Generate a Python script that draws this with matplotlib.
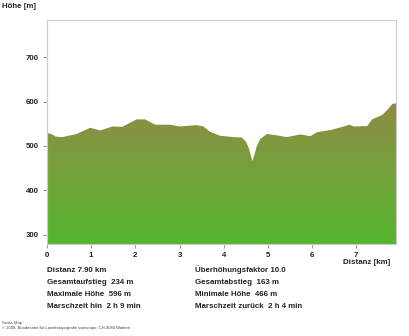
import numpy as np
import matplotlib
matplotlib.use('Agg')
import matplotlib.pyplot as plt
from matplotlib.colors import LinearSegmentedColormap

plt.rcParams['font.family'] = ['Liberation Sans', 'DejaVu Sans']

# profile (km, m)
dist = [0.0, 0.1, 0.2, 0.35, 0.67, 0.98, 1.2, 1.49, 1.7, 2.03, 2.22, 2.45, 2.79,
        3.0, 3.39, 3.54, 3.69, 3.92, 4.22, 4.41, 4.5, 4.57, 4.62, 4.65, 4.69,
        4.75, 4.83, 4.98, 5.2, 5.43, 5.74, 5.96, 6.11, 6.42, 6.72, 6.84, 6.95,
        7.25, 7.36, 7.59, 7.7, 7.82, 7.9]
elev = [529, 527, 521, 520, 527, 541, 535, 544, 543, 560, 560, 548, 548,
        544, 547, 544, 532, 523, 520, 519, 510, 495, 476, 466, 478,
        500, 516, 527, 524, 520, 526, 522, 531, 536, 544, 548, 544,
        545, 560, 570, 581, 595, 596]

xticks = [0, 1, 2, 3, 4, 5, 6, 7]
yticks = [300, 400, 500, 600, 700]

left_stats = ['Distanz 7.90 km', 'Gesamtaufstieg  234 m',
              'Maximale Höhe  596 m', 'Marschzeit hin  2 h 9 min']
right_stats = ['Überhöhungsfaktor 10.0', 'Gesamtabstieg  163 m',
               'Minimale Höhe  466 m', 'Marschzeit zurück  2 h 4 min']

ymin, ymax = 279, 784
fs = 5.7
tc = '#222222'

fig = plt.figure(figsize=(4.1, 3.36), dpi=100)
ax = fig.add_axes([47/410, 1-244/336, 349/410, 224/336])

cmap = LinearSegmentedColormap.from_list('g', ['#54b62e', '#74a23a', '#8f8a46'])
poly = ax.fill_between(dist, elev, ymin, color='none', lw=0)
grad = np.linspace(0, 1, 256).reshape(-1, 1)
im = ax.imshow(grad, cmap=cmap, aspect='auto', origin='lower',
               extent=[0, 7.9, ymin, 600], zorder=1)
im.set_clip_path(poly.get_paths()[0], transform=ax.transData)

ax.set_xlim(0, 7.9)
ax.set_ylim(ymin, ymax)
ax.set_xticks(xticks)
ax.set_yticks(yticks)
ax.tick_params(length=3, width=0.6, color='#888888', labelsize=fs, pad=3)
for lab in ax.get_xticklabels() + ax.get_yticklabels():
    lab.set_fontweight('bold')
    lab.set_color(tc)
for s in ax.spines.values():
    s.set_color('#cccccc')
    s.set_linewidth(0.8)

fig.text(2/410, 1-6/336, 'Höhe [m]', fontsize=fs, fontweight='bold',
         color=tc, va='center')
fig.text(390/410, 1-263/336, 'Distanz [km]', fontsize=fs, fontweight='bold',
         color=tc, va='center', ha='right')

for i in range(4):
    yy = 1 - (270 + 12*i)/336
    fig.text(47/410, yy, left_stats[i], fontsize=fs, fontweight='bold',
             color=tc, va='center')
    fig.text(195/410, yy, right_stats[i], fontsize=fs, fontweight='bold',
             color=tc, va='center')

fig.text(2/410, 1-323/336, 'Swiss Map', fontsize=3.0, color='#444444', va='center')
fig.text(2/410, 1-328.5/336,
         '© 2008, Bundesamt für Landestopografie swisstopo, CH-3084 Wabern',
         fontsize=3.0, color='#444444', va='center')

fig.savefig('out.png', dpi=100)
